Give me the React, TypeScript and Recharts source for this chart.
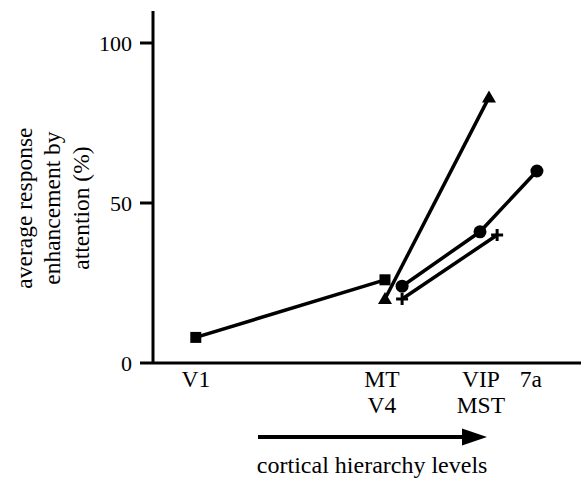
import React from "react";
import { LineChart, Line, XAxis, YAxis } from "recharts";

// x positions are along the hierarchy axis (0..10), y is % enhancement
const tickPositions = [1, 5.35, 7.66, 8.83];
const tickLabels = [["V1"], ["MT", "V4"], ["VIP", "MST"], ["7a"]];
const yTicks = [0, 50, 100];

const squareX = [1, 5.42];
const squareY = [8, 26];
const triangleX = [5.42, 7.85];
const triangleY = [20, 83];
const circleX = [5.82, 7.64, 8.97];
const circleY = [24, 41, 60];
const plusX = [5.82, 8.04];
const plusY = [20, 40];

const toData = (xs: number[], ys: number[]) => xs.map((x, i) => ({ x, y: ys[i] }));

const FONT = "Times New Roman, Liberation Serif, DejaVu Serif, serif";
const textStyle = { fontFamily: FONT, fill: "#000" };

const SquareDot = (p: any) => (
  <rect key={p.index} x={p.cx - 5.5} y={p.cy - 5.5} width={11} height={11} fill="#000" />
);
const CircleDot = (p: any) => <circle key={p.index} cx={p.cx} cy={p.cy} r={6.5} fill="#000" />;
const TriangleDot = (p: any) => (
  <polygon
    key={p.index}
    points={`${p.cx},${p.cy - 7} ${p.cx - 7},${p.cy + 5} ${p.cx + 7},${p.cy + 5}`}
    fill="#000"
  />
);
const PlusDot = (p: any) => (
  <g key={p.index}>
    <line x1={p.cx - 6} y1={p.cy} x2={p.cx + 6} y2={p.cy} stroke="#000" strokeWidth={3} />
    <line x1={p.cx} y1={p.cy - 6} x2={p.cx} y2={p.cy + 6} stroke="#000" strokeWidth={3} />
  </g>
);

const XTick = (props: any) => {
  const { x, y, payload } = props;
  const idx = tickPositions.indexOf(payload.value);
  const lines = tickLabels[idx] || [];
  return (
    <text x={x} y={y} textAnchor="middle" fontSize={23.5} style={textStyle}>
      {lines.map((l, i) => (
        <tspan key={i} x={x} dy={i === 0 ? 16 : 26}>
          {l}
        </tspan>
      ))}
    </text>
  );
};

const XLabel = (props: any) => {
  const { x, y, width } = props.viewBox;
  const ay = y + 74;
  const x1 = x + 105;
  const x2 = x + 334;
  return (
    <g>
      <line x1={x1} y1={ay} x2={x2 - 22} y2={ay} stroke="#000" strokeWidth={4} />
      <polygon points={`${x2},${ay} ${x2 - 25},${ay - 8.5} ${x2 - 25},${ay + 8.5}`} fill="#000" />
      <text x={x + width * 0.512} y={y + 110} textAnchor="middle" fontSize={24} style={textStyle}>
        cortical hierarchy levels
      </text>
    </g>
  );
};

const YLabel = (props: any) => {
  const { y, height } = props.viewBox;
  const cy = y + height * 0.56;
  const lines = ["average response", "enhancement by", "attention (%)"];
  const xs = [24, 52, 81];
  return (
    <g>
      {lines.map((l, i) => (
        <text
          key={i}
          x={xs[i]}
          y={cy}
          transform={`rotate(-90, ${xs[i]}, ${cy})`}
          textAnchor="middle"
          dominantBaseline="central"
          fontSize={23.5}
          style={textStyle}
        >
          {l}
        </text>
      ))}
    </g>
  );
};

export default function App() {
  return (
    <div style={{ position: "absolute", left: 0, top: 0, background: "#fff", fontFamily: FONT }}>
      <LineChart width={581} height={478} margin={{ top: 11, right: 0, bottom: 0, left: 0 }}>
        <XAxis
          type="number"
          dataKey="x"
          domain={[0, 10]}
          ticks={tickPositions}
          tick={<XTick />}
          tickLine={false}
          axisLine={{ stroke: "#000", strokeWidth: 3 }}
          height={115}
          interval={0}
          allowDataOverflow
          label={{ content: <XLabel /> } as any}
        />
        <YAxis
          type="number"
          domain={[0, 110]}
          ticks={yTicks}
          width={153}
          tickSize={13}
          tickMargin={8}
          axisLine={{ stroke: "#000", strokeWidth: 3 }}
          tickLine={{ stroke: "#000", strokeWidth: 3 }}
          tick={{ fill: "#000", fontSize: 22, fontFamily: FONT }}
          label={{ content: <YLabel /> } as any}
        />
        <Line
          data={toData(squareX, squareY)}
          dataKey="y"
          stroke="#000"
          strokeWidth={3.5}
          dot={SquareDot}
          isAnimationActive={false}
        />
        <Line
          data={toData(triangleX, triangleY)}
          dataKey="y"
          stroke="#000"
          strokeWidth={3.5}
          dot={TriangleDot}
          isAnimationActive={false}
        />
        <Line
          data={toData(circleX, circleY)}
          dataKey="y"
          stroke="#000"
          strokeWidth={3.5}
          dot={CircleDot}
          isAnimationActive={false}
        />
        <Line
          data={toData(plusX, plusY)}
          dataKey="y"
          stroke="#000"
          strokeWidth={3.5}
          dot={PlusDot}
          isAnimationActive={false}
        />
      </LineChart>
    </div>
  );
}
